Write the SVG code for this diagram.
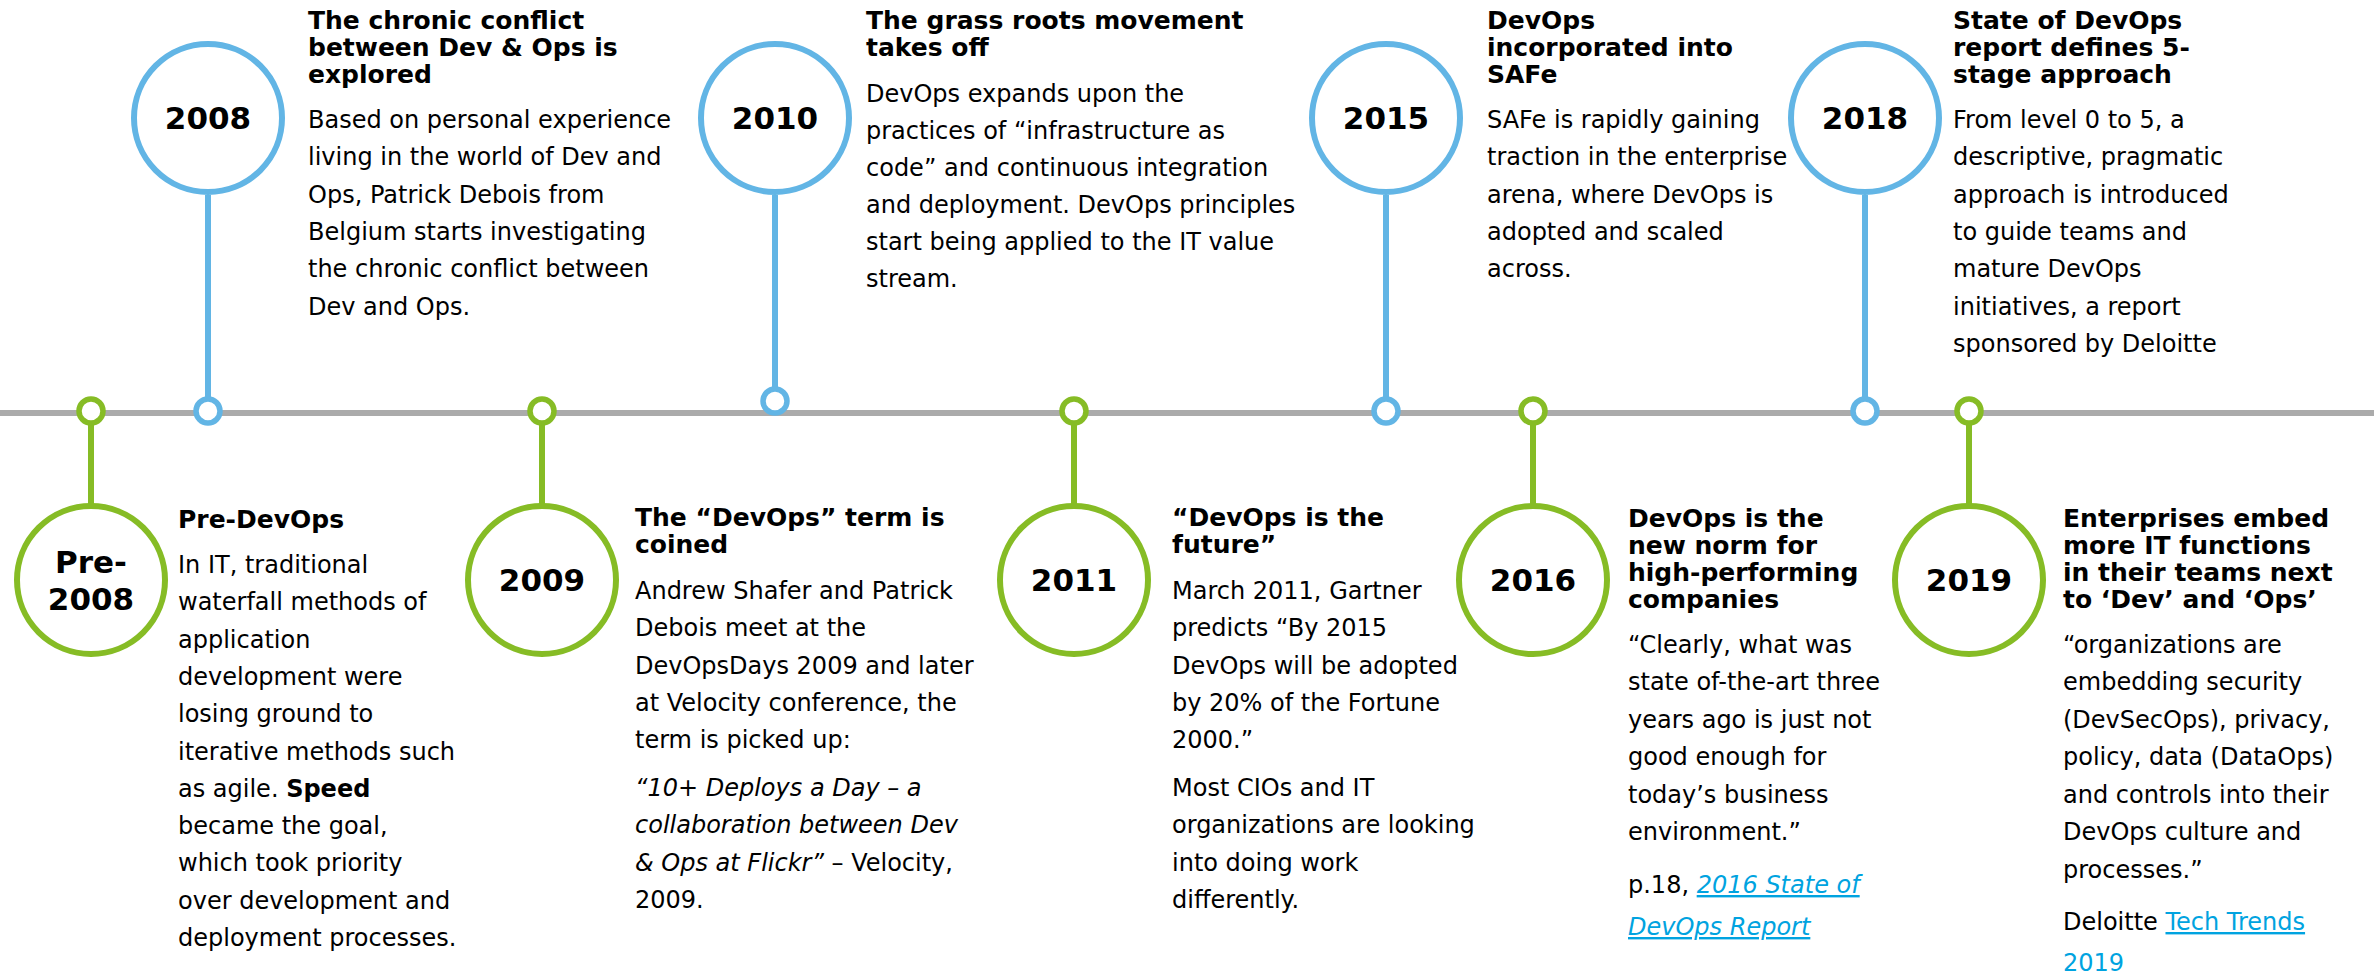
<svg xmlns="http://www.w3.org/2000/svg" width="2374" height="976" viewBox="0 0 2374 976">
<style>
text{font-family:"DejaVu Sans",Verdana,sans-serif;fill:#000}
.t{font-weight:bold;font-size:25px}
.b{font-size:24px}
.y{font-weight:bold;font-size:31px;text-anchor:middle}
.lk{fill:#00A3E0;text-decoration:underline}
.big-b{fill:#fff;stroke:#62B5E5;stroke-width:6}
.big-g{fill:#fff;stroke:#86BC25;stroke-width:6}
.dot-b{fill:#fff;stroke:#62B5E5;stroke-width:5.5}
.dot-g{fill:#fff;stroke:#86BC25;stroke-width:5.5}
.stem-b{stroke:#62B5E5;stroke-width:6}
.stem-g{stroke:#86BC25;stroke-width:6}
</style>
<rect width="2374" height="976" fill="#fff"/>
<g id="connectors">
<line x1="0" y1="413" x2="2374" y2="413" stroke="#ABABAB" stroke-width="6"/>
<line class="stem-g" x1="91" y1="423" x2="91" y2="504"/>
<line class="stem-b" x1="208" y1="195" x2="208" y2="400"/>
<line class="stem-g" x1="542" y1="423" x2="542" y2="504"/>
<line class="stem-b" x1="775" y1="195" x2="775" y2="390"/>
<line class="stem-g" x1="1074" y1="423" x2="1074" y2="504"/>
<line class="stem-b" x1="1386" y1="195" x2="1386" y2="399"/>
<line class="stem-g" x1="1533" y1="423" x2="1533" y2="504"/>
<line class="stem-b" x1="1865" y1="195" x2="1865" y2="399"/>
<line class="stem-g" x1="1969" y1="423" x2="1969" y2="504"/>
</g>
<g id="node-pre2008">
<circle class="dot-g" cx="91" cy="411" r="12"/>
<circle class="big-g" cx="91" cy="580" r="74"/>
<text class="y"><tspan x="91" y="573">Pre-</tspan><tspan x="91" y="610">2008</tspan></text>
<text class="t" x="178" y="527.5">Pre-DevOps</text>
<text class="b"><tspan x="178" y="573">In IT, traditional</tspan><tspan x="178" y="610.3">waterfall methods of</tspan><tspan x="178" y="647.6">application</tspan><tspan x="178" y="684.9">development were</tspan><tspan x="178" y="722.2">losing ground to</tspan><tspan x="178" y="759.5">iterative methods such</tspan><tspan x="178" y="796.8">as agile. <tspan font-weight="bold">Speed</tspan></tspan><tspan x="178" y="834.1">became the goal,</tspan><tspan x="178" y="871.4">which took priority</tspan><tspan x="178" y="908.7">over development and</tspan><tspan x="178" y="946">deployment processes.</tspan></text>
</g>
<g id="node-2008">
<circle class="dot-b" cx="208" cy="411" r="12"/>
<circle class="big-b" cx="208" cy="118" r="74"/>
<text class="y" x="208" y="129">2008</text>
<text class="t"><tspan x="308" y="29">The chronic conflict</tspan><tspan x="308" y="56">between Dev &amp; Ops is</tspan><tspan x="308" y="83">explored</tspan></text>
<text class="b"><tspan x="308" y="128">Based on personal experience</tspan><tspan x="308" y="165.3">living in the world of Dev and</tspan><tspan x="308" y="202.6">Ops, Patrick Debois from</tspan><tspan x="308" y="239.9">Belgium starts investigating</tspan><tspan x="308" y="277.2">the chronic conflict between</tspan><tspan x="308" y="314.5">Dev and Ops.</tspan></text>
</g>
<g id="node-2009">
<circle class="dot-g" cx="542" cy="411" r="12"/>
<circle class="big-g" cx="542" cy="580" r="74"/>
<text class="y" x="542" y="591">2009</text>
<text class="t"><tspan x="635" y="526">The “DevOps” term is</tspan><tspan x="635" y="553">coined</tspan></text>
<text class="b"><tspan x="635" y="599">Andrew Shafer and Patrick</tspan><tspan x="635" y="636.3">Debois meet at the</tspan><tspan x="635" y="673.6">DevOpsDays 2009 and later</tspan><tspan x="635" y="710.9">at Velocity conference, the</tspan><tspan x="635" y="748.2">term is picked up:</tspan><tspan x="635" y="796" font-style="italic">“10+ Deploys a Day – a</tspan><tspan x="635" y="833.3" font-style="italic">collaboration between Dev</tspan><tspan x="635" y="870.6"><tspan font-style="italic">&amp; Ops at Flickr”</tspan> – Velocity,</tspan><tspan x="635" y="907.9">2009.</tspan></text>
</g>
<g id="node-2010">
<circle class="dot-b" cx="775" cy="401" r="12"/>
<circle class="big-b" cx="775" cy="118" r="74"/>
<text class="y" x="775" y="129">2010</text>
<text class="t"><tspan x="866" y="29">The grass roots movement</tspan><tspan x="866" y="56">takes off</tspan></text>
<text class="b"><tspan x="866" y="101.5">DevOps expands upon the</tspan><tspan x="866" y="138.6">practices of “infrastructure as</tspan><tspan x="866" y="175.7">code” and continuous integration</tspan><tspan x="866" y="212.8">and deployment. DevOps principles</tspan><tspan x="866" y="249.9">start being applied to the IT value</tspan><tspan x="866" y="287">stream.</tspan></text>
</g>
<g id="node-2011">
<circle class="dot-g" cx="1074" cy="411" r="12"/>
<circle class="big-g" cx="1074" cy="580" r="74"/>
<text class="y" x="1074" y="591">2011</text>
<text class="t"><tspan x="1172" y="526">“DevOps is the</tspan><tspan x="1172" y="553">future”</tspan></text>
<text class="b"><tspan x="1172" y="599">March 2011, Gartner</tspan><tspan x="1172" y="636.3">predicts “By 2015</tspan><tspan x="1172" y="673.6">DevOps will be adopted</tspan><tspan x="1172" y="710.9">by 20% of the Fortune</tspan><tspan x="1172" y="748.2">2000.”</tspan><tspan x="1172" y="796">Most CIOs and IT</tspan><tspan x="1172" y="833.3">organizations are looking</tspan><tspan x="1172" y="870.6">into doing work</tspan><tspan x="1172" y="907.9">differently.</tspan></text>
</g>
<g id="node-2015">
<circle class="dot-b" cx="1386" cy="411" r="12"/>
<circle class="big-b" cx="1386" cy="118" r="74"/>
<text class="y" x="1386" y="129">2015</text>
<text class="t"><tspan x="1487" y="29">DevOps</tspan><tspan x="1487" y="56">incorporated into</tspan><tspan x="1487" y="83">SAFe</tspan></text>
<text class="b"><tspan x="1487" y="128">SAFe is rapidly gaining</tspan><tspan x="1487" y="165.3">traction in the enterprise</tspan><tspan x="1487" y="202.6">arena, where DevOps is</tspan><tspan x="1487" y="239.9">adopted and scaled</tspan><tspan x="1487" y="277.2">across.</tspan></text>
</g>
<g id="node-2016">
<circle class="dot-g" cx="1533" cy="411" r="12"/>
<circle class="big-g" cx="1533" cy="580" r="74"/>
<text class="y" x="1533" y="591">2016</text>
<text class="t"><tspan x="1628" y="526.5">DevOps is the</tspan><tspan x="1628" y="553.5">new norm for</tspan><tspan x="1628" y="580.5">high-performing</tspan><tspan x="1628" y="607.5">companies</tspan></text>
<text class="b"><tspan x="1628" y="652.7">“Clearly, what was</tspan><tspan x="1628" y="690.2">state of-the-art three</tspan><tspan x="1628" y="727.7">years ago is just not</tspan><tspan x="1628" y="765.2">good enough for</tspan><tspan x="1628" y="802.7">today’s business</tspan><tspan x="1628" y="840.2">environment.”</tspan><tspan x="1628" y="893">p.18, <tspan class="lk" font-style="italic">2016 State of</tspan></tspan><tspan x="1628" y="935" class="lk" font-style="italic">DevOps Report</tspan></text>
</g>
<g id="node-2018">
<circle class="dot-b" cx="1865" cy="411" r="12"/>
<circle class="big-b" cx="1865" cy="118" r="74"/>
<text class="y" x="1865" y="129">2018</text>
<text class="t"><tspan x="1953" y="29">State of DevOps</tspan><tspan x="1953" y="56">report defines 5-</tspan><tspan x="1953" y="83">stage approach</tspan></text>
<text class="b"><tspan x="1953" y="128">From level 0 to 5, a</tspan><tspan x="1953" y="165.3">descriptive, pragmatic</tspan><tspan x="1953" y="202.6">approach is introduced</tspan><tspan x="1953" y="239.9">to guide teams and</tspan><tspan x="1953" y="277.2">mature DevOps</tspan><tspan x="1953" y="314.5">initiatives, a report</tspan><tspan x="1953" y="351.8">sponsored by Deloitte</tspan></text>
</g>
<g id="node-2019">
<circle class="dot-g" cx="1969" cy="411" r="12"/>
<circle class="big-g" cx="1969" cy="580" r="74"/>
<text class="y" x="1969" y="591">2019</text>
<text class="t"><tspan x="2063" y="526.5">Enterprises embed</tspan><tspan x="2063" y="553.5">more IT functions</tspan><tspan x="2063" y="580.5">in their teams next</tspan><tspan x="2063" y="607.5">to ‘Dev’ and ‘Ops’</tspan></text>
<text class="b"><tspan x="2063" y="652.7">“organizations are</tspan><tspan x="2063" y="690.2">embedding security</tspan><tspan x="2063" y="727.7">(DevSecOps), privacy,</tspan><tspan x="2063" y="765.2">policy, data (DataOps)</tspan><tspan x="2063" y="802.7">and controls into their</tspan><tspan x="2063" y="840.2">DevOps culture and</tspan><tspan x="2063" y="877.7">processes.”</tspan><tspan x="2063" y="930">Deloitte <tspan class="lk">Tech Trends</tspan></tspan><tspan x="2063" y="971" fill="#00A3E0">2019</tspan></text>
</g>
</svg>
